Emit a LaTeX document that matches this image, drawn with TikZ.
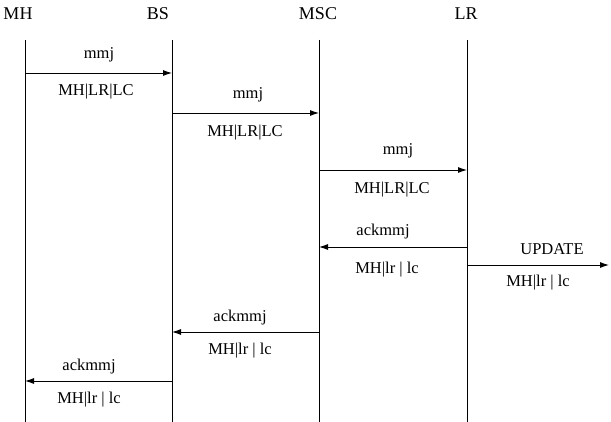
\documentclass[tikz,border=0pt]{standalone}
\usepackage{fontspec}
\setmainfont{Liberation Serif}
\usetikzlibrary{arrows.meta}
\begin{document}
\begin{tikzpicture}[x=1pt,y=-1pt,
  life/.style={line width=0.7pt},
  msg/.style={line width=0.9pt,-{Latex[length=9pt,width=6pt]}},
  head/.style={font=\fontsize{18}{20}\selectfont,inner sep=0pt},
  lbl/.style={font=\fontsize{16.5}{18}\selectfont,inner sep=0pt}]
\useasboundingbox (0,0) rectangle (611,422);
% headers
\node[head] (hMH) at (18,14) {MH};
\node[head] (hBS) at (158,14) {BS};
\node[head] (hMSC) at (318,14) {MSC};
\node[head] (hLR) at (466,14) {LR};
% lifelines
\coordinate (tMH) at (25,40);  \coordinate (bMH) at (25,422);
\coordinate (tBS) at (172,40); \coordinate (bBS) at (172,422);
\coordinate (tMSC) at (319,40); \coordinate (bMSC) at (319,422);
\coordinate (tLR) at (467,40); \coordinate (bLR) at (467,422);
\draw[life] (tMH) -- (bMH);
\draw[life] (tBS) -- (bBS);
\draw[life] (tMSC) -- (bMSC);
\draw[life] (tLR) -- (bLR);
% messages
\coordinate (a1) at (25,73); \coordinate (b1) at (172,73);
\draw[msg] (a1) -- (b1);
\node[lbl] (m1) at (99,55) {mmj};
\node[lbl] (p1) at (96,92) {MH|LR|LC};
\coordinate (a2) at (172,113); \coordinate (b2) at (319,113);
\draw[msg] (a2) -- (b2);
\node[lbl] (m2) at (248,95) {mmj};
\node[lbl] (p2) at (245,133) {MH|LR|LC};
\coordinate (a3) at (319,170); \coordinate (b3) at (467,170);
\draw[msg] (a3) -- (b3);
\node[lbl] (m3) at (398,151) {mmj};
\node[lbl] (p3) at (392,190) {MH|LR|LC};
\coordinate (a4) at (467,247); \coordinate (b4) at (319,247);
\draw[msg] (a4) -- (b4);
\node[lbl] (m4) at (383,232) {ackmmj};
\node[lbl] (p4) at (387,270) {MH|lr | lc};
\coordinate (a5) at (467,265); \coordinate (b5) at (609,265);
\draw[msg] (a5) -- (b5);
\node[lbl] (m5) at (552,249) {UPDATE};
\node[lbl] (p5) at (538,283) {MH|lr | lc};
\coordinate (a6) at (319,332); \coordinate (b6) at (172,332);
\draw[msg] (a6) -- (b6);
\node[lbl] (m6) at (240,318) {ackmmj};
\node[lbl] (p6) at (240,351) {MH|lr | lc};
\coordinate (a7) at (172,381); \coordinate (b7) at (25,381);
\draw[msg] (a7) -- (b7);
\node[lbl] (m7) at (89,367) {ackmmj};
\node[lbl] (p7) at (89,400) {MH|lr | lc};
\end{tikzpicture}
\end{document}
